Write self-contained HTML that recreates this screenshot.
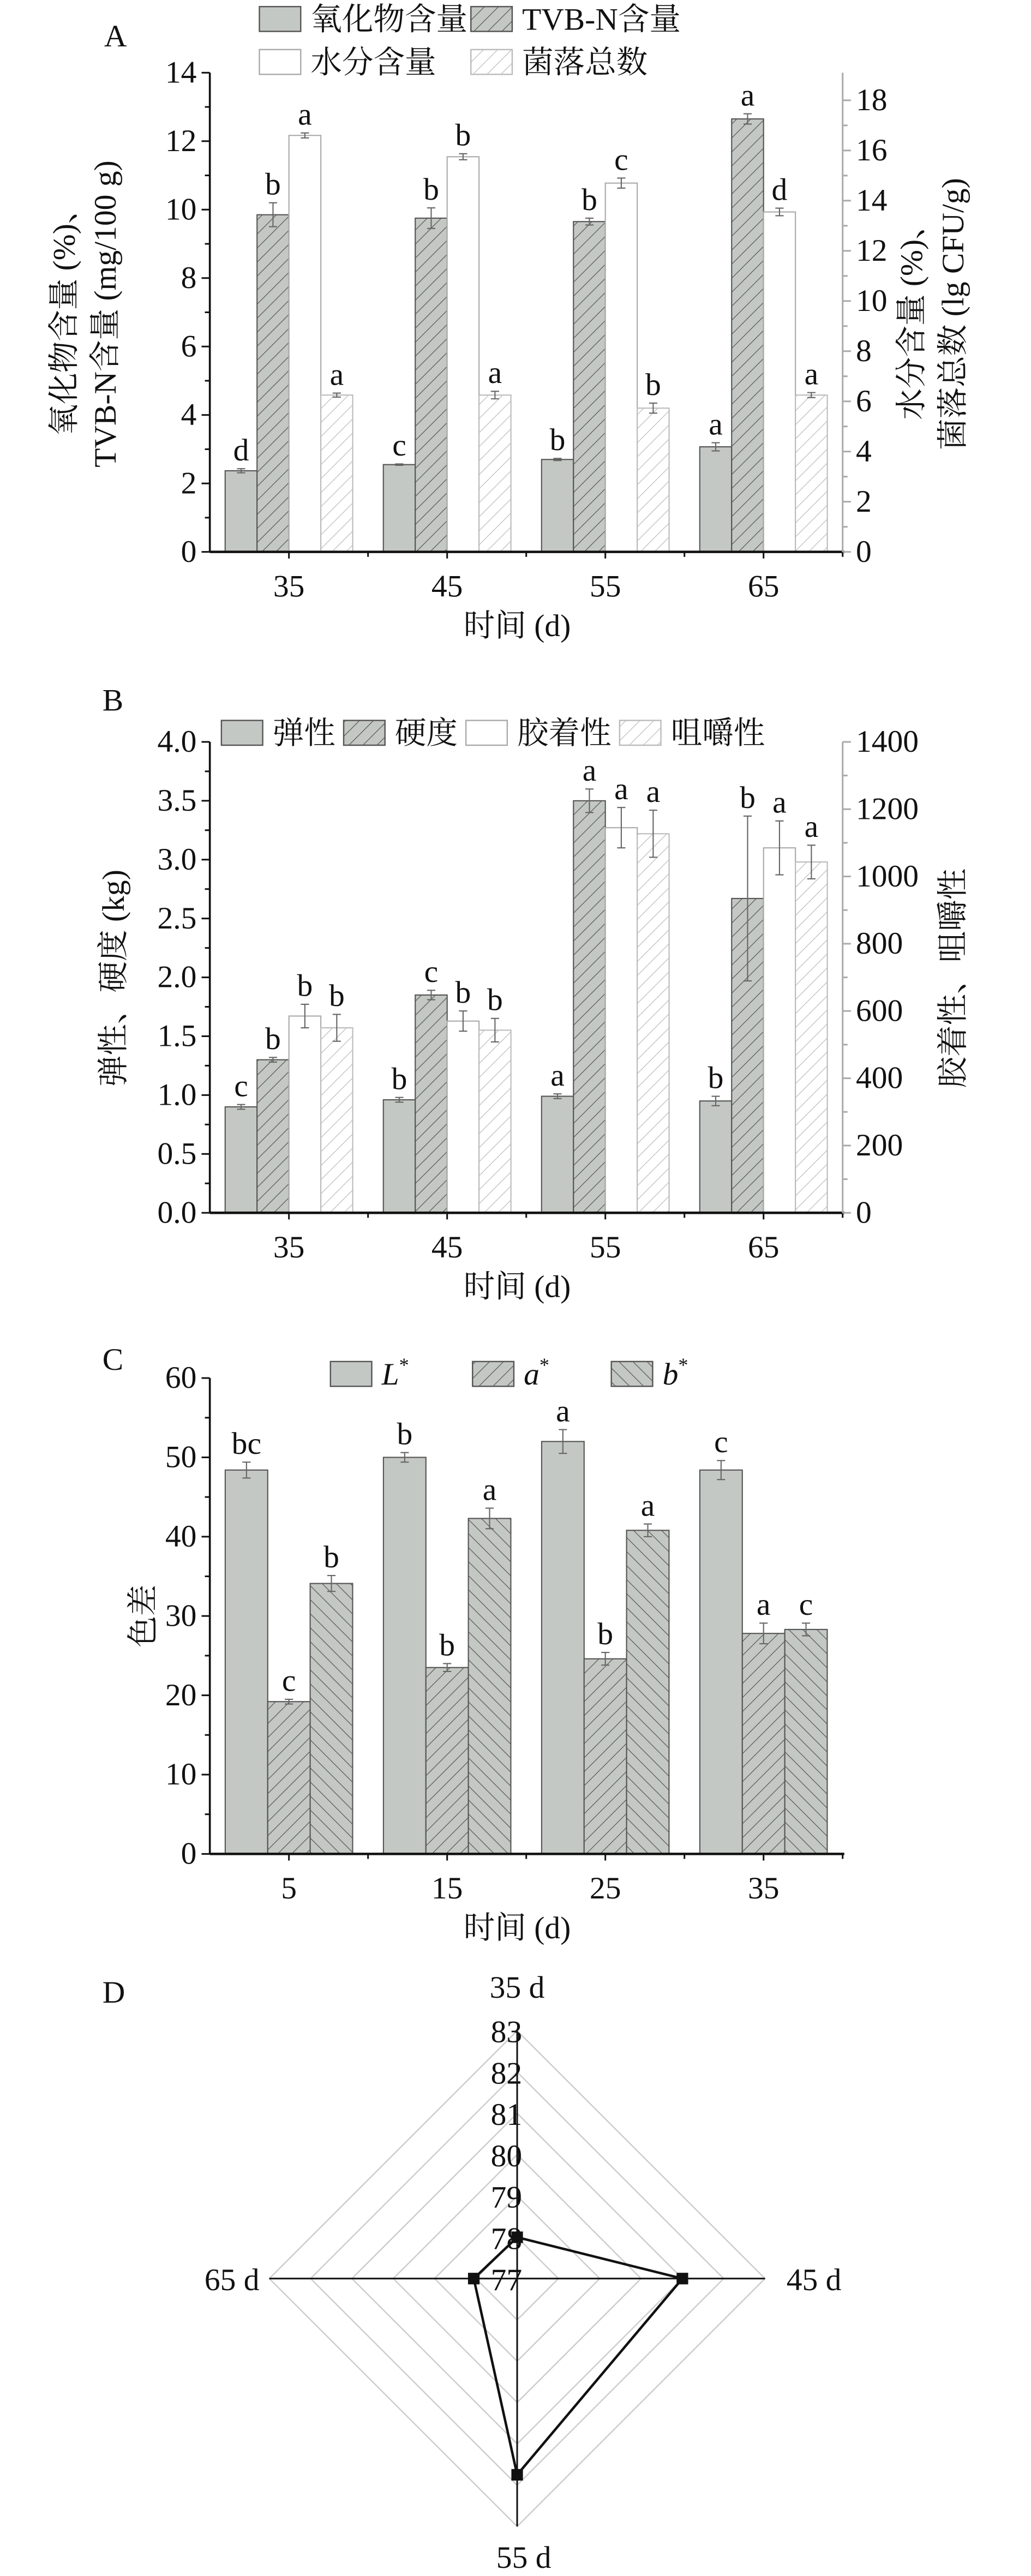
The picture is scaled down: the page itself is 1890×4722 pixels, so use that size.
<!DOCTYPE html>
<html><head><meta charset="utf-8"><style>
html,body{margin:0;padding:0;background:#fff;}
svg{display:block;}
text{font-family:"Liberation Serif","Noto Serif CJK SC",serif;fill:#111;}
</style></head><body>
<svg id="fig" xmlns="http://www.w3.org/2000/svg" width="1890" height="4722" viewBox="0 0 624 1559">
<defs>
<pattern id="hd" width="6" height="6" patternUnits="userSpaceOnUse" patternTransform="rotate(45)"><rect width="6" height="6" fill="#c4c8c4"/><line x1="0" y1="0" x2="0" y2="6" stroke="#555" stroke-width="0.8"/></pattern>
<pattern id="hl" width="6" height="6" patternUnits="userSpaceOnUse" patternTransform="rotate(45)"><rect width="6" height="6" fill="#fff"/><line x1="0" y1="0" x2="0" y2="6" stroke="#bbb" stroke-width="0.8"/></pattern>
<pattern id="hb" width="6" height="6" patternUnits="userSpaceOnUse" patternTransform="rotate(-45)"><rect width="6" height="6" fill="#c4c8c4"/><line x1="0" y1="0" x2="0" y2="6" stroke="#555" stroke-width="0.8"/></pattern>
</defs>
<g id="root"></g>
</svg>
<script>
// ---- Panel A data ----
const catsA = ['35','45','55','65'];
const oxideA = [2.37,2.55,2.7,3.07];
const oxideErrA = [0.06,0.02,0.03,0.12];
const oxideLetA = ['d','c','b','a'];
const tvbA = [9.85,9.75,9.65,12.65];
const tvbErrA = [0.35,0.3,0.1,0.15];
const tvbLetA = ['b','b','b','a'];
const waterA = [16.6,15.75,14.7,13.55];
const waterErrA = [0.1,0.12,0.2,0.15];
const waterLetA = ['a','b','c','d'];
const colonyA = [6.25,6.25,5.73,6.25];
const colonyErrA = [0.08,0.15,0.2,0.1];
const colonyLetA = ['a','a','b','a'];
const ticksLA = [0,2,4,6,8,10,12,14];
const ticksRA = [0,2,4,6,8,10,12,14,16,18];
// ---- Panel B data ----
const catsB = ['35','45','55','65'];
const elasB = [0.9,0.96,0.99,0.95];
const elasErrB = [0.02,0.02,0.02,0.04];
const elasLetB = ['c','b','a','b'];
const hardB = [1.3,1.85,3.5,2.67];
const hardErrB = [0.02,0.04,0.1,0.7];
const hardLetB = ['b','c','a','b'];
const gumB = [585,570,1145,1085];
const gumErrB = [35,30,60,80];
const gumLetB = ['b','b','a','a'];
const chewB = [550,543,1127,1043];
const chewErrB = [40,35,70,50];
const chewLetB = ['b','b','a','a'];
const ticksLB = [0,0.5,1,1.5,2,2.5,3,3.5,4];
const ticksRB = [0,200,400,600,800,1000,1200,1400];
// ---- Panel C data ----
const catsC = ['5','15','25','35'];
const LC = [48.4,50,52,48.4];
const LErrC = [1,0.6,1.5,1.2];
const LLetC = ['bc','b','a','c'];
const aC = [19.2,23.5,24.6,27.8];
const aErrC = [0.3,0.5,0.8,1.3];
const aLetC = ['c','b','b','a'];
const bC = [34.1,42.3,40.8,28.3];
const bErrC = [1,1.3,0.8,0.8];
const bLetC = ['b','a','a','c'];
const ticksC = [0,10,20,30,40,50,60];
// ---- Panel D data ----
const radarCats = ['35 d','45 d','55 d','65 d'];
const radarVals = [78.0,81.0,81.75,78.05];
const radarTicks = [77,78,79,80,81,82,83];

const NS='http://www.w3.org/2000/svg';
const root=document.getElementById('root');
function mk(tag,attrs,parent,txt){const e=document.createElementNS(NS,tag);for(const k in attrs)e.setAttribute(k,attrs[k]);if(txt!==undefined)e.textContent=txt;(parent||root).appendChild(e);return e;}

function barPanel(cfg){
  const g=mk('g',{});
  
  
  const x0=127,x1=510,yb=cfg.yb,yt=cfg.yt;
  const yL=v=>yb-(v/cfg.maxL)*(yb-yt);
  const yR=v=>yb-(v/cfg.maxR)*(yb-yt);
  const gw=(x1-x0)/cfg.cats.length;
  const cx=i=>x0+gw*(i+0.5);
  cfg.series.forEach((s,si)=>{
    const sc=s.right?yR:yL;
    s.vals.forEach((v,i)=>{
      const bx=cx(i)-cfg.bw*cfg.series.length/2+si*cfg.bw;
      const r=mk('rect',{x:bx,y:sc(v),width:cfg.bw,height:yb-sc(v),fill:s.fill,stroke:s.stroke,'stroke-width':0.7},g);
      
      
      const m=bx+cfg.bw/2,e=s.err[i];
      const et=sc(v+e),eb=sc(v-e);
      mk('path',{d:`M${m} ${et}V${eb}M${m-2.5} ${et}H${m+2.5}M${m-2.5} ${eb}H${m+2.5}`,stroke:'#666','stroke-width':0.7,fill:'none'},g);
      const t=mk('text',{x:m,y:et-5,'text-anchor':'middle','font-size':19},g,s.let[i]);
      
      
    });
  });
  mk('line',{x1:x0,y1:yb,x2:x1+1,y2:yb,stroke:'#111','stroke-width':1.5},g);
  mk('line',{x1:x0,y1:yb,x2:x0,y2:yt,stroke:'#111','stroke-width':1.2},g);
  cfg.cats.forEach((c,i)=>{
    mk('line',{x1:cx(i),y1:yb,x2:cx(i),y2:yb+4,stroke:'#111'},g);
    mk('line',{x1:x0+gw*(i+1),y1:yb,x2:x0+gw*(i+1),y2:yb+3,stroke:'#111'},g);
    const t=mk('text',{x:cx(i),y:yb+27,'text-anchor':'middle','font-size':19},g,c);
    
    
  });
  const xt=mk('text',{x:313,y:yb+51,'text-anchor':'middle','font-size':19},g,'时间 (d)');
  
  
  cfg.ticksL.forEach((v,i)=>{
    const y=yL(v);
    mk('line',{x1:x0,y1:y,x2:x0-5,y2:y,stroke:'#111'},g);
    if(i<cfg.ticksL.length-1){const ym=yL((v+cfg.ticksL[i+1])/2);mk('line',{x1:x0,y1:ym,x2:x0-3,y2:ym,stroke:'#111'},g);}
    const t=mk('text',{x:x0-8,y:y+6,'text-anchor':'end','font-size':19},g,cfg.fmtL?cfg.fmtL(v):v);
    
    
  });
  if(cfg.ticksR){
    mk('line',{x1:x1,y1:yb,x2:x1,y2:yt,stroke:'#aaa','stroke-width':1},g);
    cfg.ticksR.forEach((v,i)=>{
      const y=yR(v);
      mk('line',{x1:x1,y1:y,x2:x1+5,y2:y,stroke:'#aaa'},g);
      if(i<cfg.ticksR.length-1){const ym=yR((v+cfg.ticksR[i+1])/2);mk('line',{x1:x1,y1:ym,x2:x1+3,y2:ym,stroke:'#aaa'},g);}
      const t=mk('text',{x:x1+8,y:y+6,'text-anchor':'start','font-size':19},g,v);
      
      
    });
  }
  return g;
}
function rotText(x,y,s,name){const t=mk('text',{x:0,y:0,transform:`translate(${x},${y}) rotate(-90)`,'text-anchor':'middle','font-size':19},root,s);}
function legend(x,y,fill,stroke,label,name){const g=mk('g',{});mk('rect',{x:x,y:y-14,width:25,height:15,fill:fill,stroke:stroke,'stroke-width':0.8},g);mk('text',{x:x+31,y:y,'font-size':19},g,label);}
function label(x,y,s){const t=mk('text',{x:x,y:y,'font-size':19},root,s);}

// Panel A
label(63,28,'A');
legend(157,18,'#c4c8c4','#555','氧化物含量','legend-oxide');
legend(285,18,'url(#hd)','#555','TVB-N含量','legend-tvbn');
legend(157,44,'#fff','#aaa','水分含量','legend-water');
legend(285,44,'url(#hl)','#bbb','菌落总数','legend-colony');
barPanel({name:'panel-a-chart',cats:catsA,yb:334,yt:44,maxL:14,maxR:19.1,bw:19.3,ticksL:ticksLA,ticksR:ticksRA,
 series:[{key:'oxide',vals:oxideA,err:oxideErrA,let:oxideLetA,fill:'#c4c8c4',stroke:'#555'},
 {key:'tvbn',vals:tvbA,err:tvbErrA,let:tvbLetA,fill:'url(#hd)',stroke:'#555'},
 {key:'water',vals:waterA,err:waterErrA,let:waterLetA,fill:'#fff',stroke:'#aaa',right:true},
 {key:'colony',vals:colonyA,err:colonyErrA,let:colonyLetA,fill:'url(#hl)',stroke:'#bbb',right:true}]});
rotText(45,190,'氧化物含量 (%)、','y-left-title-line1');
rotText(70,190,'TVB-N含量 (mg/100 g)','y-left-title-line2');
rotText(558,190,'水分含量 (%)、','y-right-title-line1');
rotText(583,190,'菌落总数 (lg CFU/g)','y-right-title-line2');

// Panel B
label(62,430,'B');
legend(134,450,'#c4c8c4','#555','弹性','legend-elasticity');
legend(208,450,'url(#hd)','#555','硬度','legend-hardness');
legend(282,450,'#fff','#aaa','胶着性','legend-gumminess');
legend(375,450,'url(#hl)','#bbb','咀嚼性','legend-chewiness');
barPanel({name:'panel-b-chart',cats:catsB,yb:734,yt:449,maxL:4,maxR:1400,bw:19.3,ticksL:ticksLB,ticksR:ticksRB,fmtL:v=>v.toFixed(1),
 series:[{key:'elasticity',vals:elasB,err:elasErrB,let:elasLetB,fill:'#c4c8c4',stroke:'#555'},
 {key:'hardness',vals:hardB,err:hardErrB,let:hardLetB,fill:'url(#hd)',stroke:'#555'},
 {key:'gumminess',vals:gumB,err:gumErrB,let:gumLetB,fill:'#fff',stroke:'#aaa',right:true},
 {key:'chewiness',vals:chewB,err:chewErrB,let:chewLetB,fill:'url(#hl)',stroke:'#bbb',right:true}]});
rotText(75,592,'弹性、硬度 (kg)','y-left-title');
rotText(583,592,'胶着性、咀嚼性','y-right-title');

// Panel C
label(62,829,'C');
legend(200,838,'#c4c8c4','#555','','legend-L');
legend(286,838,'url(#hd)','#555','','legend-a');
legend(370,838,'url(#hb)','#555','','legend-b');
(function(){const items=[[231,'L'],[317,'a'],[401,'b']];items.forEach(([x,s])=>{const t=mk('text',{x:x,y:838,'font-size':19,'font-style':'italic'},root,s);mk('tspan',{dy:-8,'font-size':12,'font-style':'normal'},t,'*');});})();
barPanel({name:'panel-c-chart',cats:catsC,yb:1122,yt:834,maxL:60,maxR:60,bw:25.7,ticksL:ticksC,
 series:[{key:'L',vals:LC,err:LErrC,let:LLetC,fill:'#c4c8c4',stroke:'#555'},
 {key:'a',vals:aC,err:aErrC,let:aLetC,fill:'url(#hd)',stroke:'#555'},
 {key:'b',vals:bC,err:bErrC,let:bLetC,fill:'url(#hb)',stroke:'#555'}]});
rotText(93,978,'色差','y-axis-title');

// Panel D radar
label(62,1212,'D');
(function(){
  const g=mk('g',{});
  
  
  const cx=313,cy=1379,R=150,mn=radarTicks[0],mx=radarTicks[radarTicks.length-1];
  const r=v=>(v-mn)/(mx-mn)*R;
  const ang=[-Math.PI/2,0,Math.PI/2,Math.PI];
  radarTicks.slice(1).forEach(v=>{
    const pts=ang.map(a=>[cx+r(v)*Math.cos(a),cy+r(v)*Math.sin(a)].join(',')).join(' ');
    mk('polygon',{points:pts,fill:'none',stroke:'#ccc','stroke-width':0.8},g);
  });
  mk('line',{x1:cx-R,y1:cy,x2:cx+R,y2:cy,stroke:'#111','stroke-width':1},g);
  mk('line',{x1:cx,y1:cy-R,x2:cx,y2:cy+R,stroke:'#111','stroke-width':1},g);
  radarTicks.forEach(v=>{const t=mk('text',{x:cx+3,y:cy-r(v)+7,'text-anchor':'end','font-size':19},g,v);});
  const lp=[[cx,cy-R-20,'middle'],[cx+R+13,cy+7,'start'],[cx+4,cy+R+25,'middle'],[cx-R-6,cy+7,'end']];
  radarCats.forEach((c,i)=>{const t=mk('text',{x:lp[i][0],y:lp[i][1],'text-anchor':lp[i][2],'font-size':19},g,c);});
  const P=radarVals.map((v,i)=>[cx+r(v)*Math.cos(ang[i]),cy+r(v)*Math.sin(ang[i])]);
  const pl=mk('polygon',{points:P.map(p=>p.join(',')).join(' '),fill:'none',stroke:'#111','stroke-width':1.5},g);
  
  
  P.forEach(p=>{const m=mk('rect',{x:p[0]-3.5,y:p[1]-3.5,width:7,height:7,fill:'#111'},g);});
})();
</script>
</body></html>
